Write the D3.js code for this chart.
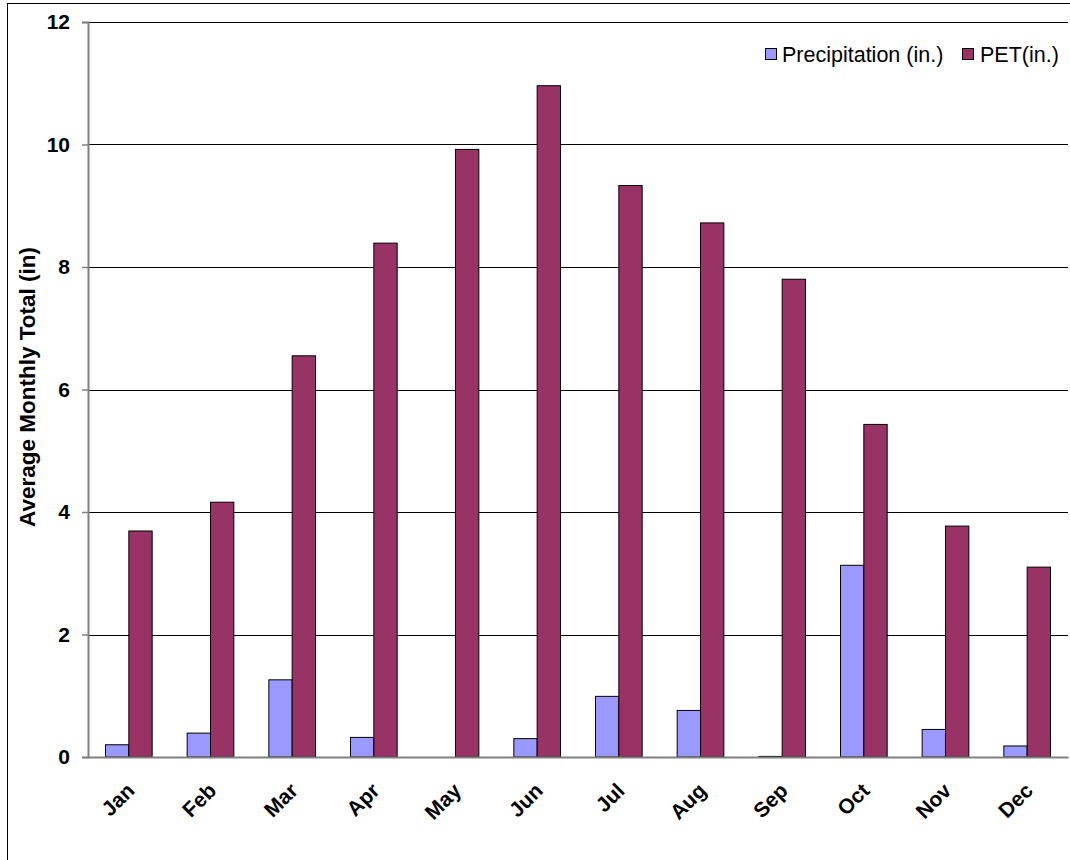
<!DOCTYPE html>
<html>
<head>
<meta charset="utf-8">
<script src="https://cdn.jsdelivr.net/npm/d3@7"></script>
<style>
  html, body { margin: 0; padding: 0; background: #fff; }
  svg { display: block; font-family: "Liberation Sans", Arial, sans-serif; }
</style>
</head>
<body>
<svg id="chart" width="1070" height="860"></svg>
<script>
// Monthly averages (inches)
const months = ["Jan", "Feb", "Mar", "Apr", "May", "Jun", "Jul", "Aug", "Sep", "Oct", "Nov", "Dec"];
const precipitation = [0.20, 0.39, 1.26, 0.32, 0.00, 0.30, 0.99, 0.76, 0.01, 3.13, 0.45, 0.18];
const pet = [3.69, 4.16, 6.55, 8.39, 9.92, 10.96, 9.33, 8.72, 7.80, 5.43, 3.77, 3.10];
const seriesNames = ["Precipitation (in.)", "PET(in.)"];
const seriesColors = ["#9999FF", "#993366"];
const yTicks = [0, 2, 4, 6, 8, 10, 12];
const yTitle = "Average Monthly Total (in)";

const svg = d3.select("#chart");
const plot = { left: 88, top: 22, right: 1068, bottom: 757 };

// chart frame
svg.append("rect")
  .attr("x", 7.5).attr("y", 3.5)
  .attr("width", 1100).attr("height", 900)
  .attr("fill", "#fff").attr("stroke", "#000").attr("stroke-width", 1);

const x = d3.scaleBand().domain(months).range([plot.left, plot.right]).paddingInner(0.4286).paddingOuter(0.2143);
const x1 = d3.scaleBand().domain([0, 1]).range([0, x.bandwidth()]);
const y = d3.scaleLinear().domain([0, 12]).range([plot.bottom, plot.top]);

// gridlines
svg.append("g")
  .selectAll("line")
  .data(yTicks.filter(d => d > 0))
  .join("line")
  .attr("x1", plot.left).attr("x2", plot.right)
  .attr("y1", d => Math.round(y(d)) + 0.5).attr("y2", d => Math.round(y(d)) + 0.5)
  .attr("stroke", "#000").attr("stroke-width", 1);

// bars
const rows = months.map((m, i) => ({ month: m, values: [precipitation[i], pet[i]] }));
const groups = svg.append("g").selectAll("g")
  .data(rows)
  .join("g")
  .attr("transform", d => `translate(${x(d.month)},0)`);

groups.selectAll("rect")
  .data(d => d.values.map((v, k) => ({ v, k })))
  .join("rect")
  .attr("x", d => x1(d.k))
  .attr("width", x1.bandwidth())
  .attr("y", d => y(d.v))
  .attr("height", d => y(0) - y(d.v))
  .attr("fill", d => seriesColors[d.k])
  .attr("stroke", "#000").attr("stroke-width", 1);

// y axis
const yAxis = d3.axisLeft(y).tickValues(yTicks).tickSize(6).tickPadding(12).tickFormat(d3.format("d"));
const gy = svg.append("g").attr("transform", `translate(${plot.left},0)`).call(yAxis);
gy.select(".domain").attr("stroke", "#808080").attr("stroke-width", 2);
gy.selectAll(".tick line").attr("stroke", "#808080").attr("stroke-width", 1.5);
gy.selectAll(".tick text")
  .attr("font-size", 21).attr("font-weight", "bold").attr("fill", "#000")
  .attr("font-family", "Liberation Sans, Arial, sans-serif");

// x axis
const xAxis = d3.axisBottom(x).tickSize(0).tickPadding(0);
const gx = svg.append("g").attr("transform", `translate(0,${plot.bottom})`).call(xAxis);
gx.select(".domain").attr("stroke", "#808080").attr("stroke-width", 2);
gx.selectAll(".tick text")
  .attr("font-size", 21).attr("font-weight", "bold").attr("fill", "#000")
  .attr("font-family", "Liberation Sans, Arial, sans-serif")
  .attr("text-anchor", "end")
  .attr("dy", 0)
  .attr("transform", "translate(7,35) rotate(-45)");

// y axis title
svg.append("text")
  .attr("transform", `translate(35,387) rotate(-90)`)
  .attr("text-anchor", "middle")
  .attr("font-size", 22.5).attr("font-weight", "bold")
  .text(yTitle);

// legend
const legendItems = [
  { name: seriesNames[0], color: seriesColors[0], sx: 765, tx: 782 },
  { name: seriesNames[1], color: seriesColors[1], sx: 962, tx: 980 }
];
const lg = svg.append("g");
lg.selectAll("rect").data(legendItems).join("rect")
  .attr("x", d => d.sx + 0.5).attr("y", 48.5).attr("width", 11).attr("height", 11)
  .attr("fill", d => d.color).attr("stroke", "#000").attr("stroke-width", 1);
lg.selectAll("text").data(legendItems).join("text")
  .attr("x", d => d.tx).attr("y", 62)
  .attr("font-size", 21.5)
  .text(d => d.name);
</script>
</body>
</html>
